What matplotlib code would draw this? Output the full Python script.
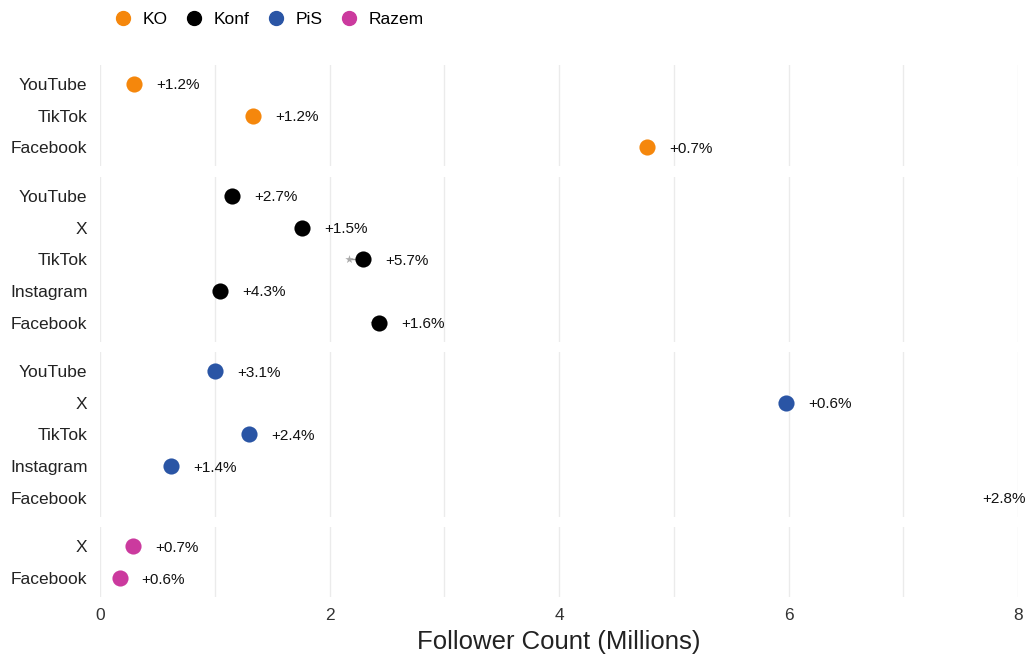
import numpy as np
import matplotlib.pyplot as plt
from matplotlib.lines import Line2D

plt.rcParams['font.family'] = ['Liberation Sans', 'DejaVu Sans']

# dados por partido (milhões de seguidores, variação %)
partidos = ["KO", "Konf", "PiS", "Razem"]
cores = ["#F5870C", "#000000", "#2A55A5", "#CB3A9E"]

ko_plat = ["YouTube", "TikTok", "Facebook"]
ko_val = [0.30, 1.33, 4.77]
ko_pct = [1.2, 1.2, 0.7]

konf_plat = ["YouTube", "X", "TikTok", "Instagram", "Facebook"]
konf_val = [1.15, 1.76, 2.29, 1.05, 2.43]
konf_pct = [2.7, 1.5, 5.7, 4.3, 1.6]

pis_plat = ["YouTube", "X", "TikTok", "Instagram", "Facebook"]
pis_val = [1.00, 5.98, 1.30, 0.62, 9.40]
pis_pct = [3.1, 0.6, 2.4, 1.4, 2.8]

razem_plat = ["X", "Facebook"]
razem_val = [0.29, 0.17]
razem_pct = [0.7, 0.6]

grupos = [
    (ko_plat, ko_val, ko_pct),
    (konf_plat, konf_val, konf_pct),
    (pis_plat, pis_val, pis_pct),
    (razem_plat, razem_val, razem_pct),
]

xmax = 8.0
W, H = 1026, 657
fig = plt.figure(figsize=(W / 100, H / 100), dpi=100)
alturas = [len(g[0]) - 1 + 1.2 for g in grupos]
gs = fig.add_gridspec(4, 1, height_ratios=alturas, left=100 / W, right=1018 / W,
                      top=1 - 65 / H, bottom=1 - 597 / H, hspace=0.085)

for i, (plat, val, pct) in enumerate(grupos):
    ax = fig.add_subplot(gs[i])
    n = len(plat)
    y = np.arange(n)[::-1]
    val = np.array(val)
    pct = np.array(pct)
    anterior = val / (1 + pct / 100)
    ax.hlines(y, anterior, val, color="#999999", lw=1, zorder=2)
    ax.scatter(anterior, y, marker="*", s=40, color="#aaaaaa", zorder=2, lw=0)
    ax.scatter(val, y, s=135, color=cores[i], zorder=3, lw=0)
    for xv, yv, p in zip(val, y, pct):
        txt = f"+{p}%"
        if xv > xmax:
            ax.text(xmax + 0.07, yv, txt, ha="right", va="center_baseline",
                    fontsize=11, clip_on=False, color="#111111")
        else:
            ax.annotate(txt, (xv, yv), xytext=(16, 0), textcoords="offset points",
                        ha="left", va="center_baseline", fontsize=11, color="#111111")
    ax.set_xlim(0, xmax)
    ax.set_ylim(-0.6, n - 1 + 0.6)
    ax.set_yticks(y)
    ax.set_yticklabels(plat, fontsize=12.5, color="#222222")
    ax.set_xticks(np.arange(0, 9, 1), minor=True)
    ax.set_xticks([0, 2, 4, 6, 8])
    ax.grid(axis="x", which="both", color="#EBEBEB", lw=1)
    ax.set_axisbelow(True)
    ax.tick_params(axis="both", length=0, pad=9)
    ax.tick_params(axis="x", which="minor", length=0)
    for s in ax.spines.values():
        s.set_visible(False)
    if i < 3:
        ax.set_xticklabels([])
    else:
        ax.set_xticklabels(["0", "2", "4", "6", "8"], fontsize=12.5, color="#333333")
        ax.tick_params(axis="x", pad=8)
        ax.set_xlabel("Follower Count (Millions)", fontsize=18.5, color="#222222",
                      labelpad=5)

handles = [Line2D([], [], marker="o", ls="", color=c, markersize=10) for c in cores]
fig.legend(handles, partidos, loc="center left", bbox_to_anchor=(114 / W, 1 - 19 / H),
           ncol=4, frameon=False, fontsize=12.5, handletextpad=0.65, columnspacing=1.0,
           handlelength=1.0, borderpad=0, borderaxespad=0)

fig.savefig("out.png", dpi=100)
